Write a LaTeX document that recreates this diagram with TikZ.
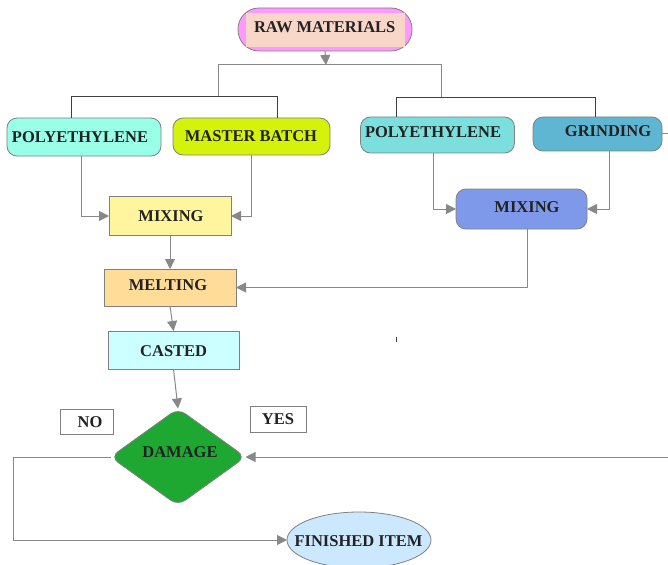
\documentclass[tikz,border=0pt]{standalone}
\usepackage{fontspec}
\setmainfont{Liberation Serif}
\usetikzlibrary{shapes.geometric,arrows.meta}
\definecolor{rawpink}{HTML}{FF99FF}
\definecolor{rawpeach}{HTML}{F8D6C8}
\definecolor{polyA}{HTML}{99FFE6}
\definecolor{mbcol}{HTML}{D4F20A}
\definecolor{polyB}{HTML}{7ADFDD}
\definecolor{grindcol}{HTML}{5EB6D3}
\definecolor{mixB}{HTML}{7F99EA}
\definecolor{mixA}{HTML}{FFF59E}
\definecolor{meltcol}{HTML}{FFDD99}
\definecolor{castcol}{HTML}{CCFFFF}
\definecolor{damcol}{HTML}{1EA832}
\definecolor{fincol}{HTML}{CCE8FF}
\definecolor{bordergray}{HTML}{808080}
\definecolor{linegray}{HTML}{888888}
\definecolor{bardark}{HTML}{404040}
\definecolor{txt}{HTML}{222222}
\tikzset{
  shapebox/.style={draw=bordergray, line width=0.8pt, inner sep=0pt, outer sep=0pt},
  roundbox/.style={shapebox, rounded corners=10pt},
  lbl/.style={font=\fontsize{16.5}{18}\selectfont\bfseries, text=txt, inner sep=0pt},
  conn/.style={draw=linegray, line width=1pt},
  arr/.style={conn, -{Triangle[length=10pt,width=10pt]}},
  barline/.style={draw=bardark, line width=0.8pt},
}
\begin{document}
\begin{tikzpicture}[x=1pt,y=-1pt]
\useasboundingbox (0,0) rectangle (668,564);

% shapes
\node[shapebox, rounded corners=21pt, fill=rawpink, minimum width=174pt, minimum height=43pt] (raw) at (325,29.5) {};
\fill[rawpeach] (246,13) rectangle (405,47);
\node[roundbox, fill=polyA, minimum width=154pt, minimum height=38pt] (poly1) at (84,137) {};
\node[roundbox, fill=mbcol, minimum width=157pt, minimum height=37pt] (mb) at (251.5,136.5) {};
\node[roundbox, fill=polyB, minimum width=154pt, minimum height=36pt] (poly2) at (437.5,135) {};
\node[roundbox, fill=grindcol, minimum width=129pt, minimum height=34pt] (grind) at (597.5,134) {};
\node[roundbox, fill=mixB, minimum width=131pt, minimum height=40pt] (mix2) at (521.5,209) {};
\node[shapebox, fill=mixA, minimum width=122pt, minimum height=39pt] (mix1) at (170,216) {};
\node[shapebox, fill=meltcol, minimum width=132pt, minimum height=37pt] (melt) at (170,287.5) {};
\node[shapebox, fill=castcol, minimum width=131pt, minimum height=38pt] (cast) at (173.5,350) {};
\node[shapebox, diamond, rounded corners=9pt, fill=damcol, minimum width=135pt, minimum height=97pt] (dam) at (178,457) {};
\node[shapebox, ellipse, fill=fincol, minimum width=144pt, minimum height=56pt] (fin) at (359,540) {};
\node[shapebox, fill=white, minimum width=53pt, minimum height=25pt] (no) at (86.5,421.5) {};
\node[shapebox, fill=white, minimum width=56pt, minimum height=26pt] (yes) at (278.5,419) {};

% labels
\node[lbl] (rawt) at (324.7,27.5) {RAW MATERIALS};
\node[lbl] (poly1t) at (80,137.5) {POLYETHYLENE};
\node[lbl] (mbt) at (251,136) {MASTER BATCH};
\node[lbl] (poly2t) at (433,132.5) {POLYETHYLENE};
\node[lbl] (grindt) at (608,131) {GRINDING};
\node[lbl] (mix2t) at (527,207.5) {MIXING};
\node[lbl] (mix1t) at (171,216) {MIXING};
\node[lbl] (meltt) at (168,285) {MELTING};
\node[lbl] (castt) at (173.7,351.5) {CASTED};
\node[lbl] (damt) at (180,452.5) {DAMAGE};
\node[lbl] (not) at (90,422) {NO};
\node[lbl] (yest) at (278,419) {YES};
\node[lbl] (fint) at (358.5,541) {FINISHED ITEM};

% junction coordinates
\coordinate (topbar) at (326,65);
\coordinate (tbl) at (218,65);
\coordinate (tbr) at (441,65);
\coordinate (lbar) at (218,96);
\coordinate (rbar) at (441,97);
\coordinate (lb1) at (71,96);
\coordinate (lb2) at (277,96);
\coordinate (rb1) at (396,97);
\coordinate (rb2) at (595,97);
\coordinate (yesin) at (668,457);
\coordinate (nocorner) at (13,457);
\coordinate (grindout) at (668,134);

% top distribution
\draw[arr] (raw.south) -- (topbar);
\draw[conn] (lbar) -- (tbl) -- (tbr) -- (rbar);
\draw[barline] (lb1) -- (lb2);
\draw[barline] (rb1) -- (rb2);
\draw[barline] (lb1) -- (lb1 |- poly1.north);
\draw[barline] (lb2) -- (lb2 |- mb.north);
\draw[barline] (rb1) -- (rb1 |- poly2.north);
\draw[barline] (rb2) -- (rb2 |- grind.north);
\draw[conn] (grind.east) -- (grindout);

% into mixing
\draw[arr] ([xshift=-3pt]poly1.south) |- (mix1.west);
\draw[arr] (mb.south) |- (mix1.east);
\draw[arr] ([xshift=-4.5pt]poly2.south) |- (mix2.west);
\draw[arr] ([xshift=11.5pt]grind.south) |- (mix2.east);

% main flow
\draw[arr] (mix1.south) -- (melt.north);
\draw[arr] ([xshift=6pt]mix2.south) |- (melt.east);
\draw[arr] (melt.south) -- (cast.north);
\draw[arr] (cast.south) -- (dam.north);
\draw[arr] (yesin) -- (dam.east);
\draw[arr] (dam.west) -- (nocorner) |- (fin.west);

% stray mark
\draw[bardark, line width=0.7pt] (396,337) -- (396,342);
\end{tikzpicture}
\end{document}
